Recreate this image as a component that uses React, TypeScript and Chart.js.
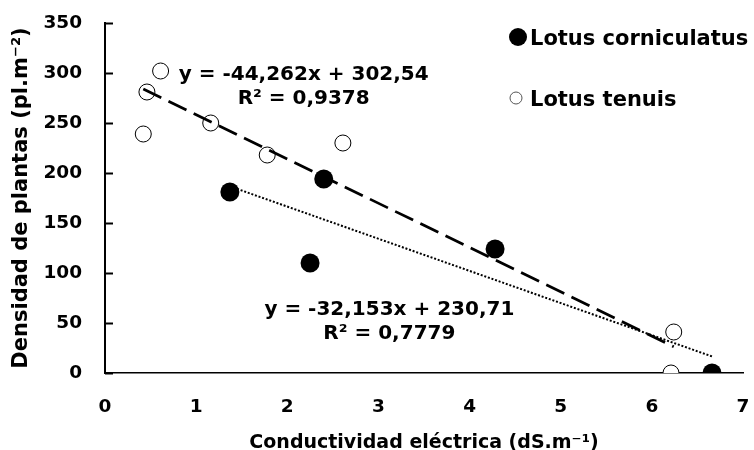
import { useEffect, useRef } from "react";
import { Chart, registerables } from "chart.js";

Chart.register(...registerables);

// ---- data ----
const seriesNames = ["Lotus corniculatus", "Lotus tenuis"];
const corniculatusX = [1.37, 2.25, 2.4, 4.28, 6.66];
const corniculatusY = [181, 110, 194, 124, 0];
const tenuisX = [0.42, 0.46, 0.61, 1.16, 1.78, 2.61, 6.21, 6.24];
const tenuisY = [239, 281, 302, 250, 218, 230, 0, 41];

const tenuisSlope = -44.262;
const tenuisIntercept = 302.54;
const corniculatusSlope = -32.153;
const corniculatusIntercept = 230.71;

const tenuisEquation = ["y = -44,262x + 302,54", "R² = 0,9378"];
const corniculatusEquation = ["y = -32,153x + 230,71", "R² = 0,7779"];

const xTicks = [0, 1, 2, 3, 4, 5, 6, 7];
const yTicks = [0, 50, 100, 150, 200, 250, 300, 350];
const xTitle = "Conductividad eléctrica (dS.m⁻¹)";
const yTitle = "Densidad de plantas (pl.m⁻²)";

const FONT = "'DejaVu Sans', sans-serif";

function trend(xs: number[], slope: number, intercept: number) {
  const lo = Math.min(...xs);
  const hi = Math.max(...xs);
  return [
    { x: lo, y: slope * lo + intercept },
    { x: hi, y: slope * hi + intercept },
  ];
}

const overlayPlugin = {
  id: "overlay",
  afterDraw(chart: any) {
    const { ctx, scales, chartArea } = chart;
    const xs = scales.x;
    const ys = scales.y;
    ctx.save();
    // inward tick marks on the y axis
    ctx.strokeStyle = "#000";
    ctx.lineWidth = 2;
    for (const v of yTicks) {
      const py = Math.round(ys.getPixelForValue(v)) + 0.5;
      ctx.beginPath();
      ctx.moveTo(chartArea.left, py);
      ctx.lineTo(chartArea.left + 8, py);
      ctx.stroke();
    }
    // equation labels
    const drawLabel = (lines: string[], cx: number, cy: number) => {
      ctx.font = `bold 20px ${FONT}`;
      ctx.fillStyle = "#000";
      ctx.textAlign = "center";
      ctx.textBaseline = "alphabetic";
      const px = xs.getPixelForValue(cx);
      const py = ys.getPixelForValue(cy);
      const gap = 24;
      lines.forEach((t, i) => {
        const lineCenter = py + (i - (lines.length - 1) / 2) * gap;
        ctx.fillText(t, px, lineCenter + 7.3);
      });
    };
    drawLabel(tenuisEquation, 2.18, 288);
    drawLabel(corniculatusEquation, 3.12, 53);

    // legend
    ctx.font = `bold 21px ${FONT}`;
    ctx.textAlign = "left";
    ctx.textBaseline = "alphabetic";
    ctx.fillStyle = "#000";
    ctx.beginPath();
    ctx.arc(518, 37, 9, 0, Math.PI * 2);
    ctx.fill();
    ctx.fillText(seriesNames[0], 530, 37 + 7.6);

    ctx.beginPath();
    ctx.arc(516, 98, 6, 0, Math.PI * 2);
    ctx.fillStyle = "#fff";
    ctx.fill();
    ctx.strokeStyle = "#555";
    ctx.lineWidth = 1;
    ctx.stroke();
    ctx.fillStyle = "#000";
    ctx.fillText(seriesNames[1], 530, 98 + 7.6);
    ctx.restore();
  },
};

const noScalePadding = (s: any) => {
  s.paddingTop = 0;
  s.paddingBottom = 0;
  s.paddingLeft = 0;
  s.paddingRight = 0;
};

export default function App() {
  const ref = useRef<HTMLCanvasElement | null>(null);

  useEffect(() => {
    if (!ref.current) return;
    Chart.defaults.font.family = FONT;
    Chart.defaults.color = "#000";
    const chart = new Chart(ref.current, {
      type: "scatter",
      data: {
        datasets: [
          {
            type: "line",
            label: "trend tenuis",
            data: trend(tenuisX, tenuisSlope, tenuisIntercept),
            borderColor: "#000",
            borderWidth: 2.75,
            borderDash: [20, 8],
            pointRadius: 0,
            fill: false,
            order: 0,
          },
          {
            type: "line",
            label: "trend corniculatus",
            data: trend(corniculatusX, corniculatusSlope, corniculatusIntercept),
            borderColor: "#000",
            borderWidth: 2,
            borderDash: [2, 1.8],
            pointRadius: 0,
            fill: false,
            order: 0,
          },
          {
            label: seriesNames[0],
            data: corniculatusX.map((x, i) => ({ x, y: corniculatusY[i] })),
            backgroundColor: "#000",
            borderColor: "#000",
            pointRadius: 9.5,
            borderWidth: 0,
            order: 1,
          },
          {
            label: seriesNames[1],
            data: tenuisX.map((x, i) => ({ x, y: tenuisY[i] })),
            backgroundColor: "#fff",
            borderColor: "#000",
            borderWidth: 1,
            pointRadius: 8,
            order: 1,
          },
        ],
      },
      options: {
        animation: false,
        responsive: false,
        layout: { padding: { top: 23, right: 11, left: 0, bottom: 0 } },
        plugins: {
          legend: { display: false },
          tooltip: { enabled: false },
        },
        scales: {
          x: {
            type: "linear",
            min: 0,
            max: 7,
            afterBuildTicks: (s: any) => {
              s.ticks = xTicks.map((v) => ({ value: v }));
            },
            ticks: {
              font: { size: 18.5, weight: "bold" },
              color: "#000",
              padding: 23,
            },
            grid: { display: false, drawTicks: false },
            border: { display: true, color: "#000", width: 1.5 },
            title: {
              display: true,
              text: xTitle,
              font: { size: 19, weight: "bold", lineHeight: 1 },
              color: "#000",
              padding: { top: 0, bottom: -3 },
            },
            afterFit: (s: any) => {
              s.height = 77;
              noScalePadding(s);
            },
          },
          y: {
            type: "linear",
            min: 0,
            max: 350,
            afterBuildTicks: (s: any) => {
              s.ticks = yTicks.map((v) => ({ value: v }));
            },
            ticks: {
              font: { size: 18.5, weight: "bold" },
              color: "#000",
              padding: 23,
            },
            grid: { display: false, drawTicks: false },
            border: { display: true, color: "#000", width: 2 },
            title: {
              display: true,
              text: yTitle,
              font: { size: 21, weight: "bold", lineHeight: 1 },
              color: "#000",
              padding: { top: 11, bottom: 0 },
            },
            afterFit: (s: any) => {
              s.width = 105;
              noScalePadding(s);
            },
          },
        },
      } as any,
      plugins: [overlayPlugin],
    });
    return () => chart.destroy();
  }, []);

  return (
    <div style={{ position: "absolute", left: 0, top: 0, width: 754, height: 450, background: "#fff" }}>
      <canvas ref={ref} width={754} height={450} />
    </div>
  );
}
